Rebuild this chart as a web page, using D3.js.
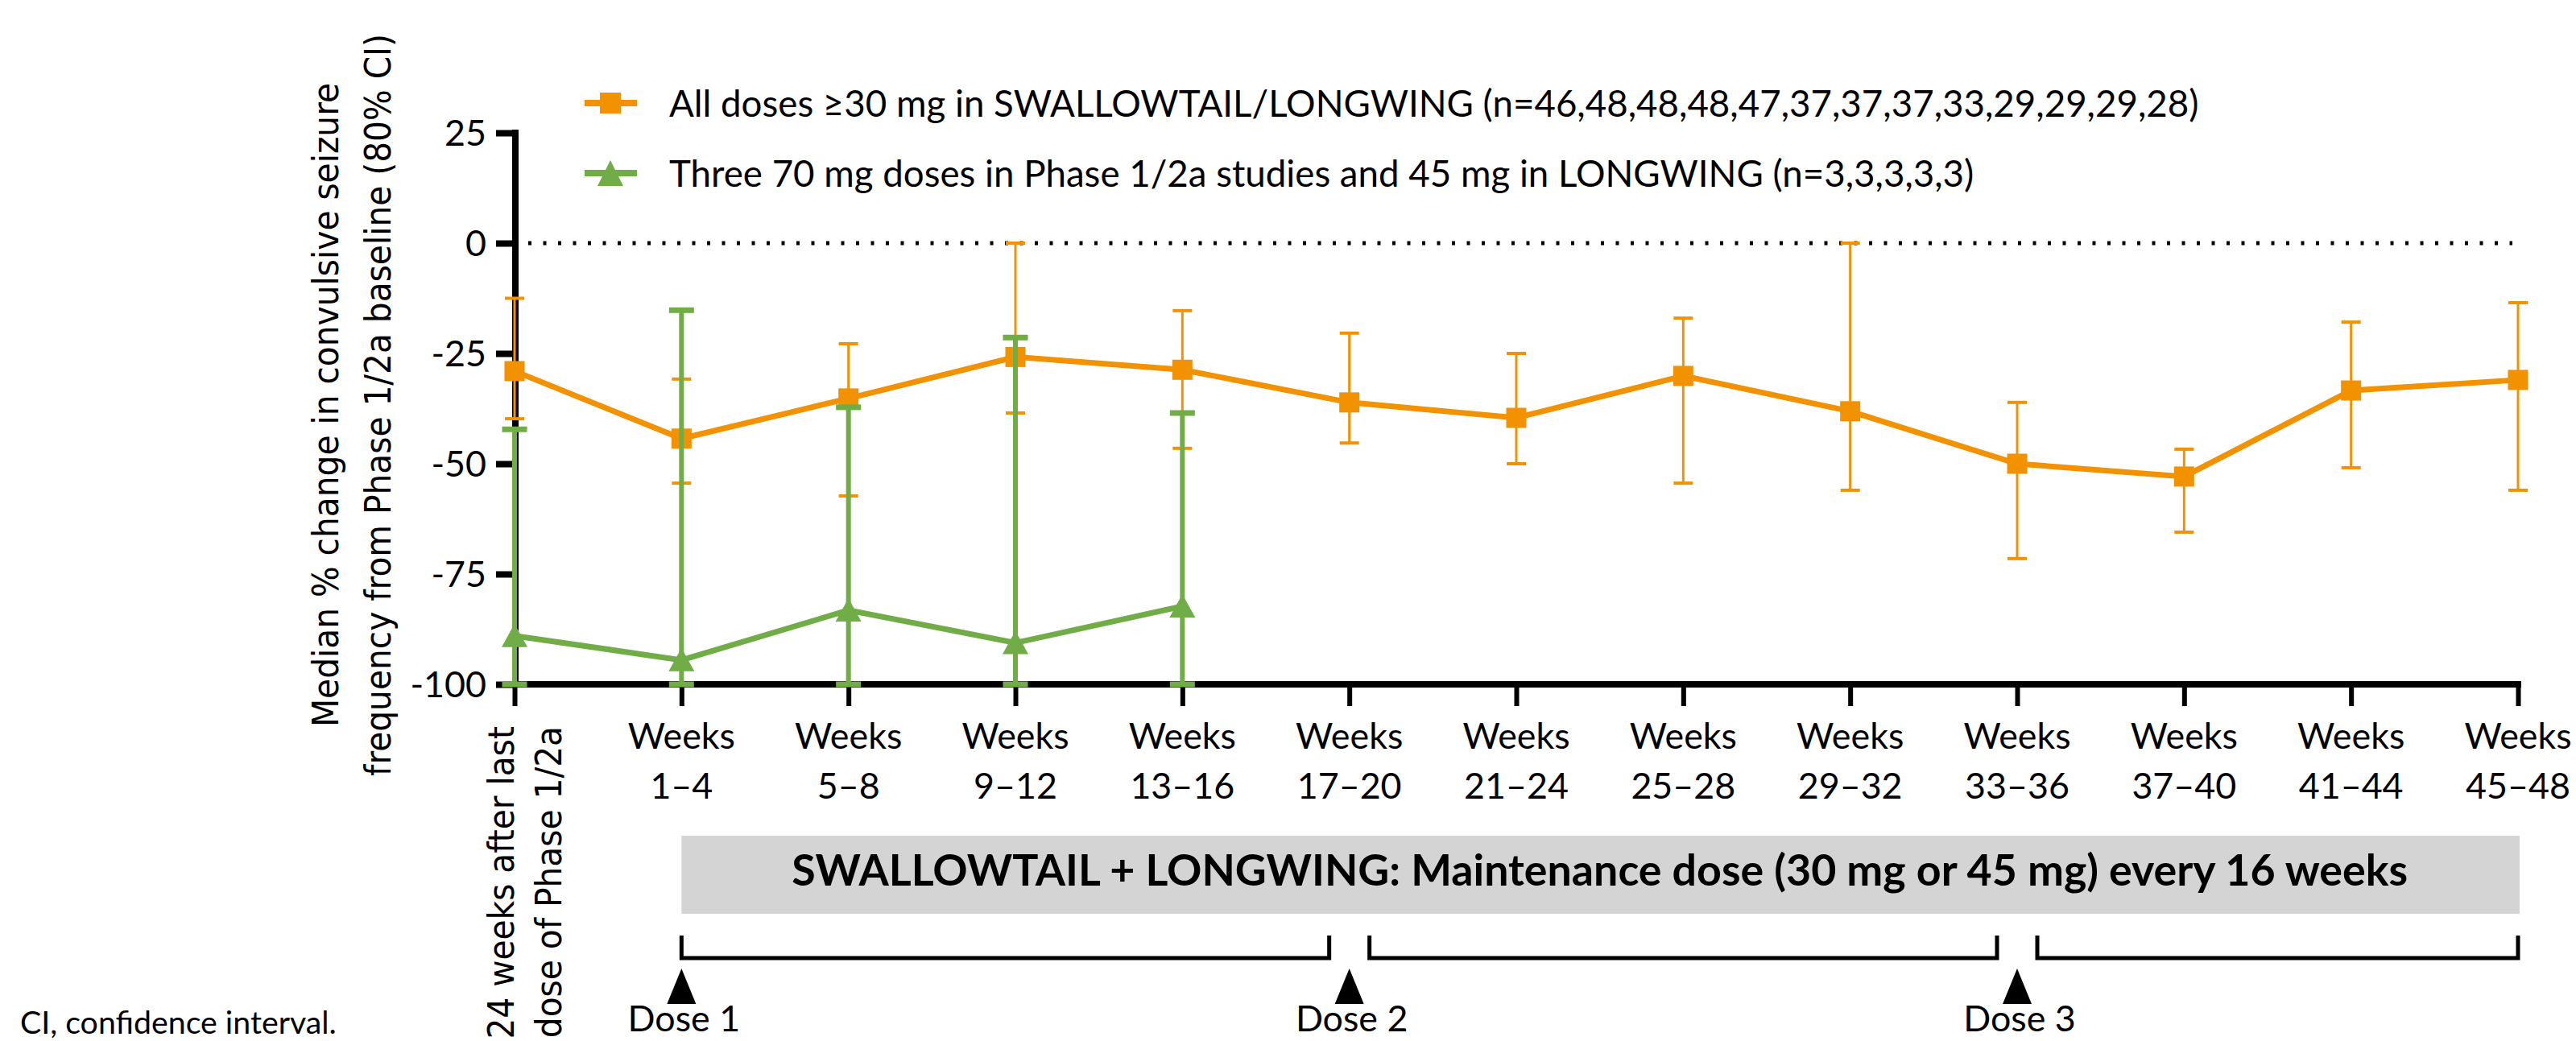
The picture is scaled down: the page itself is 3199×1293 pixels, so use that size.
<!DOCTYPE html>
<html>
<head>
<meta charset="utf-8">
<script src="https://cdn.jsdelivr.net/npm/d3@7"></script>
<style>
  html, body { margin: 0; padding: 0; background: #ffffff; }
  svg { display: block; }
</style>
</head>
<body>
<script>
// ---------------- DATA ----------------
const tickLine1 = ["24 weeks after last", "Weeks", "Weeks", "Weeks", "Weeks", "Weeks", "Weeks", "Weeks", "Weeks", "Weeks", "Weeks", "Weeks", "Weeks"];
const tickLine2 = ["dose of Phase 1/2a", "1–4", "5–8", "9–12", "13–16", "17–20", "21–24", "25–28", "29–32", "33–36", "37–40", "41–44", "45–48"];
const yTicks = [25, 0, -25, -50, -75, -100];

const seriesNames = [
  "All doses ≥30 mg in SWALLOWTAIL/LONGWING (n=46,48,48,48,47,37,37,37,33,29,29,29,28)",
  "Three 70 mg doses in Phase 1/2a studies and 45 mg in LONGWING (n=3,3,3,3,3)"
];

// All doses >=30 mg (median, upper and lower 80% CI)
const orangeMedian = [-29, -44.3, -35.2, -25.8, -28.7, -36.1, -39.6, -30.1, -38.1, -50.0, -52.9, -33.4, -31.0];
const orangeUpper  = [-12.5, -30.8, -22.8, 0, -15.3, -20.4, -25.0, -17.0, 0, -36.1, -46.7, -17.9, -13.5];
const orangeLower  = [-39.8, -54.4, -57.3, -38.5, -46.5, -45.3, -50.0, -54.4, -56.0, -71.5, -65.5, -50.9, -56.0];

// Three 70 mg doses
const greenMedian = [-89, -94.5, -83.2, -90.6, -82.3];
const greenUpper  = [-42.2, -15.2, -37.2, -21.4, -38.5];
const greenLower  = [-100, -100, -100, -100, -100];

// Dosing schedule
const doseLabels = ["Dose 1", "Dose 2", "Dose 3"];
const doseIndex = [1, 5, 9];
const bracketSpans = [[1, 5], [5, 9], [9, 12]];
const boxText = "SWALLOWTAIL + LONGWING: Maintenance dose (30 mg or 45 mg) every 16 weeks";
const yTitle = ["Median % change in convulsive seizure", "frequency from Phase 1/2a baseline (80% CI)"];
const footnote = "CI, confidence interval.";

// ---------------- STYLE ----------------
const ORANGE = "#F39200";
const GREEN = "#70AD47";
const FONT = "Lato, 'Open Sans', sans-serif";
const WIDE = "'DejaVu Sans', Verdana, sans-serif";

const W = 3199, H = 1293;
const svg = d3.select("body").append("svg").attr("width", W).attr("height", H)
  .style("background", "#fff");

const x = d3.scalePoint().domain(d3.range(tickLine1.length)).range([639, 3127]);
const y = d3.scaleLinear().domain([-100, 25]).range([850, 165]);

function fitWidth(sel, target) {
  const w = sel.node().getComputedTextLength();
  const fs = parseFloat(sel.attr("font-size"));
  const nfs = fs * target / w;
  sel.attr("font-size", nfs);
  return nfs / fs;
}

// ---------------- LEGEND ----------------
const legY = [128, 215];
const legBase = [145, 232];
const legend = svg.append("g");
legend.append("line").attr("x1", 726).attr("x2", 791).attr("y1", legY[0]).attr("y2", legY[0])
  .attr("stroke", ORANGE).attr("stroke-width", 8);
legend.append("rect").attr("x", 758 - 13).attr("y", legY[0] - 13).attr("width", 26).attr("height", 26)
  .attr("fill", ORANGE);
legend.append("line").attr("x1", 726).attr("x2", 791).attr("y1", legY[1]).attr("y2", legY[1])
  .attr("stroke", GREEN).attr("stroke-width", 8);
legend.append("path")
  .attr("d", `M758,${legY[1] - 16}L774,${legY[1] + 16}L742,${legY[1] + 16}Z`)
  .attr("fill", GREEN);

const lt1 = legend.append("text").attr("x", 831).attr("y", legBase[0]).attr("font-family", FONT)
  .attr("font-size", 51).attr("fill", "#000").text(seriesNames[0]);
const ratio = fitWidth(lt1, 1900);
const lt2 = legend.append("text").attr("x", 831).attr("y", legBase[1]).attr("font-family", FONT)
  .attr("font-size", 51 * ratio).attr("fill", "#000").text(seriesNames[1]);

const tickFS = 50 * ratio;

// ---------------- AXES ----------------
// zero reference line (dotted)
svg.append("line").attr("x1", 656).attr("x2", 3120).attr("y1", y(0)).attr("y2", y(0))
  .attr("stroke", "#000").attr("stroke-width", 5).attr("stroke-dasharray", "4,14.5");

// y axis
const yAxis = d3.axisLeft(y).tickValues(yTicks).tickSize(24).tickPadding(12)
  .tickFormat(d => d < 0 ? "-" + Math.abs(d) : String(d));
const gy = svg.append("g").attr("transform", `translate(${x(0) + 1},0)`).call(yAxis);
gy.select(".domain").remove();
gy.selectAll(".tick line").attr("stroke", "#000").attr("stroke-width", 8);
gy.selectAll(".tick text").attr("font-family", FONT).attr("font-size", tickFS)
  .attr("fill", "#000").attr("dy", "0.35em");
svg.append("line").attr("x1", x(0) + 1).attr("x2", x(0) + 1)
  .attr("y1", y(25) - 4).attr("y2", y(-100) + 4).attr("stroke", "#000").attr("stroke-width", 8);

// x axis
const xAxis = d3.axisBottom(x).tickSize(27).tickFormat("");
const gx = svg.append("g").attr("transform", `translate(0,${y(-100)})`).call(xAxis);
gx.select(".domain").remove();
gx.selectAll(".tick line").attr("stroke", "#000").attr("stroke-width", 6);
svg.append("line").attr("x1", x(0) - 3).attr("x2", x(12) + 4)
  .attr("y1", y(-100)).attr("y2", y(-100)).attr("stroke", "#000").attr("stroke-width", 8);

// x tick labels
const xl = svg.append("g").attr("font-family", FONT).attr("font-size", tickFS).attr("fill", "#000")
  .attr("text-anchor", "middle");
d3.range(1, tickLine1.length).forEach(i => {
  xl.append("text").attr("x", x(i)).attr("y", 930).text(tickLine1[i]);
  xl.append("text").attr("x", x(i)).attr("y", 992).text(tickLine2[i]);
});
// rotated first category label
[[tickLine1[0], 638], [tickLine2[0], 697]].forEach(([t, bx]) => {
  svg.append("text").attr("transform", `translate(${bx},902) rotate(-90) scale(0.905,1)`)
    .attr("text-anchor", "end").attr("font-family", WIDE).attr("font-size", 45)
    .attr("fill", "#000").text(t);
});

// y axis title
[[yTitle[0], 420], [yTitle[1], 485]].forEach(([t, bx]) => {
  svg.append("text").attr("transform", `translate(${bx},503) rotate(-90) scale(0.905,1)`)
    .attr("text-anchor", "middle").attr("font-family", WIDE).attr("font-size", 45)
    .attr("fill", "#000").text(t);
});

// ---------------- ORANGE SERIES ----------------
const go = svg.append("g");
orangeMedian.forEach((m, i) => {
  const cx = x(i);
  go.append("line").attr("x1", cx).attr("x2", cx).attr("y1", y(orangeUpper[i])).attr("y2", y(orangeLower[i]))
    .attr("stroke", ORANGE).attr("stroke-width", 3);
  [orangeUpper[i], orangeLower[i]].forEach(v => {
    go.append("line").attr("x1", cx - 12).attr("x2", cx + 12).attr("y1", y(v)).attr("y2", y(v))
      .attr("stroke", ORANGE).attr("stroke-width", 4);
  });
});
go.append("path").datum(orangeMedian)
  .attr("d", d3.line().x((d, i) => x(i)).y(d => y(d)))
  .attr("fill", "none").attr("stroke", ORANGE).attr("stroke-width", 7);
go.selectAll("rect.m").data(orangeMedian).join("rect").attr("class", "m")
  .attr("x", (d, i) => x(i) - 12.5).attr("y", d => y(d) - 12.5)
  .attr("width", 25).attr("height", 25).attr("fill", ORANGE);

// ---------------- GREEN SERIES ----------------
const gg = svg.append("g");
greenMedian.forEach((m, i) => {
  const cx = x(i);
  gg.append("line").attr("x1", cx).attr("x2", cx).attr("y1", y(greenUpper[i])).attr("y2", y(greenLower[i]))
    .attr("stroke", GREEN).attr("stroke-width", 6);
  [greenUpper[i], greenLower[i]].forEach(v => {
    gg.append("line").attr("x1", cx - 15.5).attr("x2", cx + 15.5).attr("y1", y(v)).attr("y2", y(v))
      .attr("stroke", GREEN).attr("stroke-width", 7);
  });
});
gg.append("path").datum(greenMedian)
  .attr("d", d3.line().x((d, i) => x(i)).y(d => y(d)))
  .attr("fill", "none").attr("stroke", GREEN).attr("stroke-width", 7);
gg.selectAll("path.m").data(greenMedian).join("path").attr("class", "m")
  .attr("d", (d, i) => {
    const cx = x(i), cy = y(d);
    return `M${cx},${cy - 15}L${cx + 16},${cy + 14}L${cx - 16},${cy + 14}Z`;
  })
  .attr("fill", GREEN);

// ---------------- DOSING SCHEDULE ----------------
svg.append("rect").attr("x", x(1)).attr("y", 1038).attr("width", x(12) + 2 - x(1)).attr("height", 97)
  .attr("fill", "#D4D4D4");
const bt = svg.append("text").attr("x", (x(1) + x(12)) / 2).attr("y", 1100)
  .attr("text-anchor", "middle").attr("font-family", FONT).attr("font-weight", "bold")
  .attr("font-size", 50).attr("fill", "#000").text(boxText);
fitWidth(bt, 2007);

const GAP = 25;
bracketSpans.forEach(([a, b], k) => {
  const x1 = x(a) + (k === 0 ? 0 : GAP);
  const x2 = x(b) - (k === bracketSpans.length - 1 ? 0 : GAP);
  svg.append("path").attr("d", `M${x1},1162V1190H${x2}V1162`)
    .attr("fill", "none").attr("stroke", "#000").attr("stroke-width", 5);
});
doseIndex.forEach((di, k) => {
  const cx = x(di);
  svg.append("path").attr("d", `M${cx},1203L${cx + 18},1247L${cx - 18},1247Z`).attr("fill", "#000");
  svg.append("text").attr("x", cx + 3).attr("y", 1281).attr("text-anchor", "middle")
    .attr("font-family", FONT).attr("font-size", tickFS).attr("fill", "#000").text(doseLabels[k]);
});

// footnote
const fn = svg.append("text").attr("x", 25).attr("y", 1284).attr("font-family", FONT)
  .attr("font-size", 40).attr("fill", "#000").text(footnote);
fitWidth(fn, 393);
</script>
</body>
</html>
